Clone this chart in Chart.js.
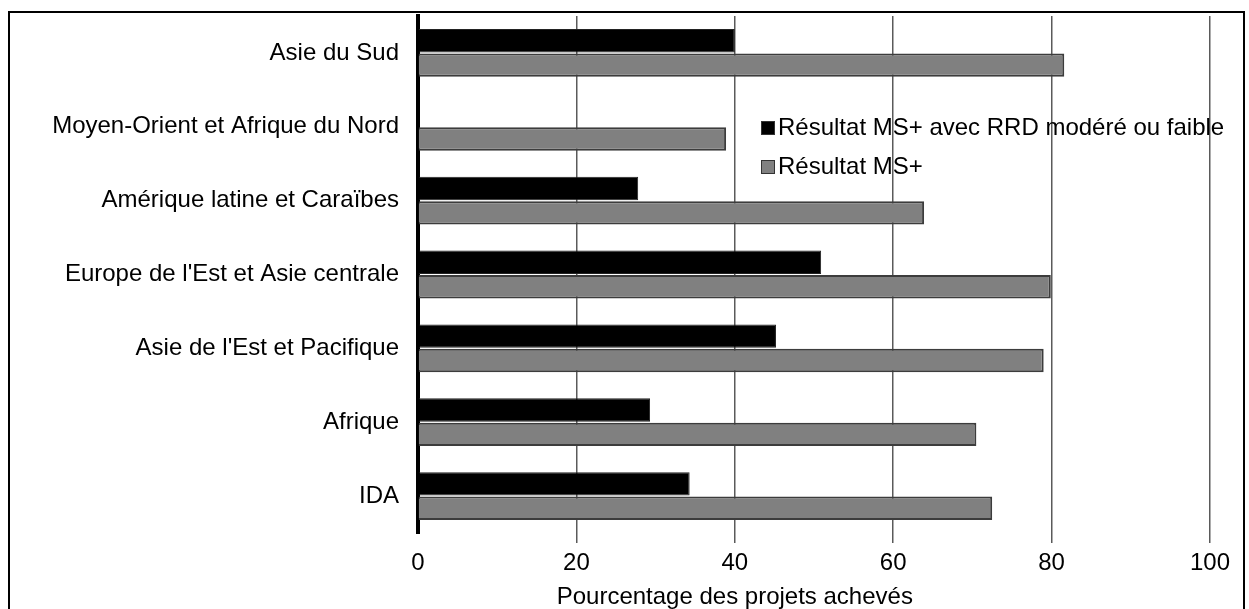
<!DOCTYPE html>
<html>
<head>
<meta charset="utf-8">
<script src="https://cdn.jsdelivr.net/npm/chart.js@4"></script>
<style>
  html, body { margin: 0; padding: 0; background: #fff; overflow: hidden; }
  #wrap { position: relative; width: 1249px; height: 609px; }
  #frame { position: absolute; left: 8px; top: 11px; width: 1237px; height: 700px;
           border: 2px solid #000; box-sizing: border-box; pointer-events: none; }
</style>
</head>
<body>
<div id="wrap">
  <canvas id="chart" width="1249" height="609"></canvas>
  <div id="frame"></div>
</div>
<script>
// categories (top to bottom)
const regions = [
  "Asie du Sud",
  "Moyen-Orient et Afrique du Nord",
  "Amérique latine et Caraïbes",
  "Europe de l'Est et Asie centrale",
  "Asie de l'Est et Pacifique",
  "Afrique",
  "IDA"
];
// Résultat MS+ avec RRD modéré ou faible
const msRrd = [40.0, null, 27.8, 50.9, 45.2, 29.3, 34.3];
// Résultat MS+
const msPlus = [81.6, 38.9, 63.9, 79.9, 79.0, 70.5, 72.5];
const xTicks = [0, 20, 40, 60, 80, 100];
const xTitle = "Pourcentage des projets achevés";

const FONT = "'Liberation Sans', Arial, sans-serif";

// legend drawn inside the plot, at the right of the top bars
const insideLegend = {
  id: "insideLegend",
  afterDraw(chart) {
    const ctx = chart.ctx;
    ctx.save();
    ctx.font = "24px " + FONT;
    ctx.textBaseline = "middle";
    ctx.textAlign = "left";
    chart.data.datasets.forEach((ds, i) => {
      const y = 128 + i * 39;
      ctx.fillStyle = ds.backgroundColor;
      ctx.fillRect(761, y - 7, 14, 14);
      ctx.strokeStyle = "#333";
      ctx.lineWidth = 1;
      ctx.strokeRect(761.5, y - 6.5, 13, 13);
      ctx.fillStyle = "#000";
      ctx.fillText(ds.label, 778, y);
    });
    ctx.restore();
  }
};

// x axis title, centred under the 40 mark like the original
const axisTitle = {
  id: "axisTitle",
  afterDraw(chart) {
    const ctx = chart.ctx;
    const x = chart.scales.x.getPixelForValue(40);
    ctx.save();
    ctx.font = "24px " + FONT;
    ctx.fillStyle = "#000";
    ctx.textAlign = "center";
    ctx.textBaseline = "middle";
    ctx.fillText(xTitle, x, 597);
    ctx.restore();
  }
};

new Chart(document.getElementById("chart"), {
  type: "bar",
  data: {
    labels: regions,
    datasets: [
      { label: "Résultat MS+ avec RRD modéré ou faible", data: msRrd,
        backgroundColor: "#000000", borderColor: "#222", borderWidth: 1 },
      { label: "Résultat MS+", data: msPlus,
        backgroundColor: "#808080", borderColor: "#3c3c3c", borderWidth: 2 }
    ]
  },
  options: {
    indexAxis: "y",
    responsive: false,
    animation: false,
    events: [],
    layout: { padding: { left: 0, right: 39, top: 16, bottom: 0 } },
    datasets: { bar: { barPercentage: 0.96, categoryPercentage: 0.66 } },
    plugins: { legend: { display: false }, tooltip: { enabled: false } },
    scales: {
      x: {
        min: 0, max: 100,
        afterBuildTicks: s => { s.ticks = xTicks.map(v => ({ value: v })); },
        afterFit: s => { s.height = 76; s.paddingLeft = 0; s.paddingRight = 0; },
        border: { display: false },
        grid: {
          color: c => (c.tick && c.tick.value === 0) ? "rgba(0,0,0,0)" : "#5a5a5a",
          lineWidth: 1.5,
          tickLength: 10
        },
        ticks: { color: "#000", font: { family: FONT, size: 24 }, padding: 6 }
      },
      y: {
        afterFit: s => { s.width = 418; s.paddingTop = 0; s.paddingBottom = 0; },
        grid: { display: false, drawTicks: false },
        border: { display: true, color: "#000", width: 4 },
        ticks: { color: "#000", font: { family: FONT, size: 24 }, padding: 19 }
      }
    }
  },
  plugins: [insideLegend, axisTitle]
});
</script>
</body>
</html>
